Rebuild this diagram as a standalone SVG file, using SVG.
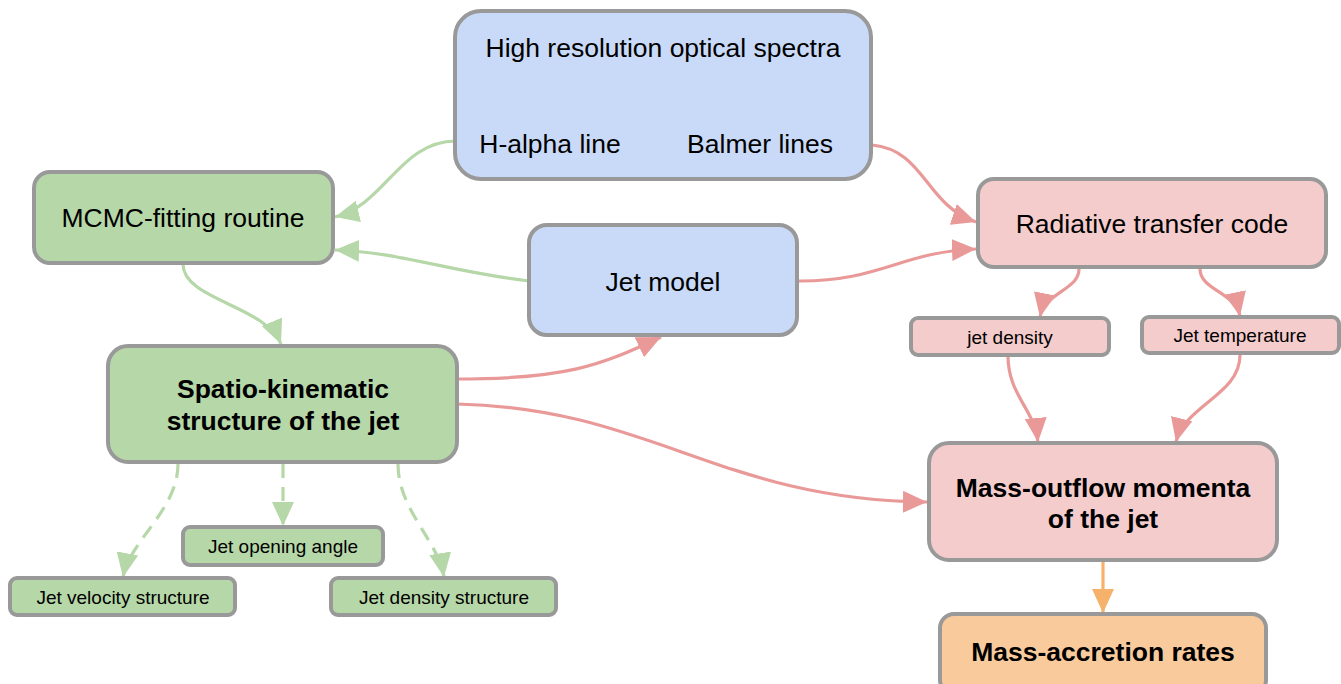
<svg xmlns="http://www.w3.org/2000/svg" width="1341" height="684" viewBox="0 0 1341 684">
<style>
.n{stroke:#999999;stroke-width:4}
.blue{fill:#c9daf8}.green{fill:#b6d7a8}.pink{fill:#f4cccc}.orange{fill:#f9cb9c}
text{font-family:"Liberation Sans",Arial,sans-serif;fill:#000;dominant-baseline:central;text-anchor:middle}
.big{font-size:26.5px}.bold{font-size:26.5px;font-weight:bold}.small{font-size:19px}
.c{fill:none;stroke-width:3.2}
.cg{stroke:#b6d7a8}.cp{stroke:#ea9999}.co{stroke:#f6b26b}
.dash{stroke-dasharray:14,9}
</style>
<defs>
<marker id="ag" markerUnits="userSpaceOnUse" markerWidth="26" markerHeight="22" refX="24" refY="11" orient="auto"><path d="M0,0 L24,11 L0,22 Z" fill="#b6d7a8"/></marker>
<marker id="ap" markerUnits="userSpaceOnUse" markerWidth="26" markerHeight="22" refX="24" refY="11" orient="auto"><path d="M0,0 L24,11 L0,22 Z" fill="#ea9999"/></marker>
<marker id="ao" markerUnits="userSpaceOnUse" markerWidth="26" markerHeight="22" refX="24" refY="11" orient="auto"><path d="M0,0 L24,11 L0,22 Z" fill="#f6b26b"/></marker>
</defs>
<g id="connectors">
<path class="c cg" d="M456,141 C400,141 385,205 335,217" marker-end="url(#ag)"/>
<path class="c cg" d="M529,281 C450,272 400,252 335,250" marker-end="url(#ag)"/>
<path class="c cg" d="M183,264 C183,300 265,305 281,344" marker-end="url(#ag)"/>
<path class="c cp" d="M872,145 C925,150 925,205 976,222" marker-end="url(#ap)"/>
<path class="c cp" d="M797,281 C880,282 900,252 976,249" marker-end="url(#ap)"/>
<path class="c cp" d="M457,379 C565,379 600,366 661,337" marker-end="url(#ap)"/>
<path class="c cp" d="M457,404 C650,408 720,500 927,502" marker-end="url(#ap)"/>
<path class="c cp" d="M1079,269 C1079,290 1045,292 1040,317" marker-end="url(#ap)"/>
<path class="c cp" d="M1200,269 C1200,290 1235,292 1240,316" marker-end="url(#ap)"/>
<path class="c cp" d="M1008,356 C1008,395 1035,410 1038,442" marker-end="url(#ap)"/>
<path class="c cp" d="M1240,355 C1240,395 1185,405 1176,442" marker-end="url(#ap)"/>
<path class="c co" d="M1103,562 L1103,613" marker-end="url(#ao)"/>
<path class="c cg dash" d="M178,464 C178,510 130,540 123,577" marker-end="url(#ag)"/>
<path class="c cg dash" d="M283,464 L283,526" marker-end="url(#ag)"/>
<path class="c cg dash" d="M398,464 C398,510 438,540 444,577" marker-end="url(#ag)"/>
</g>
<g id="spectra"><rect class="n blue" x="455" y="11" width="416" height="168" rx="26"/>
<text class="big" x="663" y="48">High resolution optical spectra</text>
<text class="big" x="550" y="144">H-alpha line</text>
<text class="big" x="760" y="144">Balmer lines</text></g>
<g id="jetmodel"><rect class="n blue" x="529" y="225" width="268" height="110" rx="18"/>
<text class="big" x="663" y="282">Jet model</text></g>
<g id="mcmc"><rect class="n green" x="34" y="172" width="299" height="91" rx="16"/>
<text class="big" x="183" y="218">MCMC-fitting routine</text></g>
<g id="radiative"><rect class="n pink" x="978" y="179" width="348" height="88" rx="16"/>
<text class="big" x="1152" y="224">Radiative transfer code</text></g>
<g id="jetdensity"><rect class="n pink" x="911" y="318" width="198" height="37" rx="7"/>
<text class="small" x="1010" y="337">jet density</text></g>
<g id="jettemp"><rect class="n pink" x="1142" y="317" width="197" height="36" rx="7"/>
<text class="small" x="1240" y="335">Jet temperature</text></g>
<g id="spatio"><rect class="n green" x="108" y="346" width="349" height="116" rx="20"/>
<text class="bold" x="283" y="389">Spatio-kinematic</text>
<text class="bold" x="283" y="421">structure of the jet</text></g>
<g id="opening"><rect class="n green" x="183" y="527" width="200" height="38" rx="7"/>
<text class="small" x="283" y="546">Jet opening angle</text></g>
<g id="velocity"><rect class="n green" x="10" y="578" width="225" height="37" rx="7"/>
<text class="small" x="123" y="597">Jet velocity structure</text></g>
<g id="densitystruct"><rect class="n green" x="331" y="578" width="225" height="37" rx="7"/>
<text class="small" x="444" y="597">Jet density structure</text></g>
<g id="outflow"><rect class="n pink" x="929" y="443" width="348" height="117" rx="20"/>
<text class="bold" x="1103" y="488">Mass-outflow momenta</text>
<text class="bold" x="1103" y="519">of the jet</text></g>
<g id="accretion"><rect class="n orange" x="940" y="614" width="326" height="80" rx="14"/>
<text class="bold" x="1103" y="652">Mass-accretion rates</text></g>
</svg>
